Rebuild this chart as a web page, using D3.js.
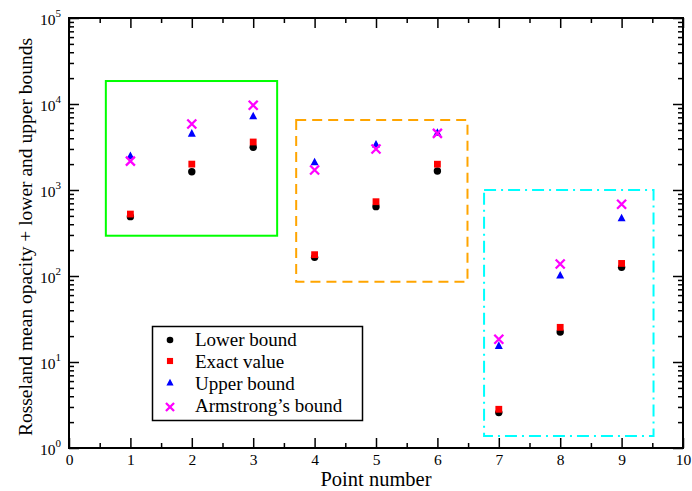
<!DOCTYPE html>
<html>
<head>
<meta charset="utf-8">
<script src="https://cdn.jsdelivr.net/npm/d3@7/dist/d3.min.js"></script>
<style>
  html, body { margin: 0; padding: 0; background: #fff; }
  svg { display: block; }
  text { font-family: "Liberation Serif", "Times New Roman", serif; fill: #000; }
</style>
</head>
<body>
<svg id="chart" width="692" height="491"></svg>
<script>
// Point numbers
const points = [1, 2, 3, 4, 5, 6, 7, 8, 9];

// Opacity values per point
const lowerBound = [490, 1630, 3140, 165, 640, 1660, 2.58, 22.3, 126];
const exactValue = [525, 2000, 3615, 177, 731, 1995, 2.82, 25.3, 140];
const upperBound = [2500, 4560, 7250, 2118, 3400, 4660, 15.5, 102, 472];
const armstrongBound = [2170, 5850, 9660, 1710, 3000, 4560, 18.4, 138, 682];

// Group boxes: [x0, x1, y0, y1] in data units
const groupBoxes = [
  { x0: 0.60, x1: 3.39, y0: 294, y1: 18500, color: "#00ff00", dash: null },
  { x0: 3.70, x1: 6.49, y0: 85.9, y1: 6510, color: "#ffa500", dash: "10,6" },
  { x0: 6.76, x1: 9.52, y0: 1.38, y1: 1000, color: "#00ffff", dash: "12,5,2,5" }
];

const xTicks = [0, 1, 2, 3, 4, 5, 6, 7, 8, 9, 10];
const yExponents = [0, 1, 2, 3, 4, 5];

const legendLabels = ["Lower bound", "Exact value", "Upper bound", "Armstrong\u2019s bound"];

const svg = d3.select("#chart");
const margin = { left: 69, right: 9, top: 18, bottom: 43 };
const W = 692, H = 491;
const x = d3.scaleLinear().domain([0, 10]).range([margin.left, W - margin.right]);
const y = d3.scaleLog().domain([1, 1e5]).range([H - margin.bottom, margin.top]);

const plot = svg.append("g");

// Group boxes
groupBoxes.forEach(b => {
  plot.append("rect")
    .attr("x", x(b.x0)).attr("y", y(b.y1))
    .attr("width", x(b.x1) - x(b.x0)).attr("height", y(b.y0) - y(b.y1))
    .attr("fill", "none").attr("stroke", b.color).attr("stroke-width", 2)
    .attr("stroke-dasharray", b.dash);
});

// Axes with inward ticks on all four sides
const majorLen = 10, minorLen = 5;
const xMinor = d3.range(0.5, 10, 1);
const yMinor = [];
for (let e = 0; e < 5; e++) for (let m = 2; m <= 9; m++) yMinor.push(m * Math.pow(10, e));

function drawAxis(axisGen, transform) {
  const g = svg.append("g").attr("transform", transform).call(axisGen);
  g.select(".domain").remove();
  g.selectAll("line").attr("stroke", "#000").attr("stroke-width", 1.5);
  return g;
}

const bottomY = y(1), topY = y(1e5), leftX = x(0), rightX = x(10);

drawAxis(d3.axisBottom(x).tickValues(xTicks).tickSize(-majorLen).tickFormat(d => d), `translate(0,${bottomY})`)
  .selectAll("text").attr("font-size", 15.5).attr("font-family", "Liberation Serif")
  .attr("dy", null).attr("y", 17);
drawAxis(d3.axisBottom(x).tickValues(xMinor).tickSize(-minorLen).tickFormat(""), `translate(0,${bottomY})`);
drawAxis(d3.axisTop(x).tickValues(xTicks).tickSize(-majorLen).tickFormat(""), `translate(0,${topY})`);
drawAxis(d3.axisTop(x).tickValues(xMinor).tickSize(-minorLen).tickFormat(""), `translate(0,${topY})`);

const yMajorVals = yExponents.map(e => Math.pow(10, e));
drawAxis(d3.axisLeft(y).tickValues(yMajorVals).tickSize(-majorLen).tickFormat(""), `translate(${leftX},0)`);
drawAxis(d3.axisLeft(y).tickValues(yMinor).tickSize(-minorLen).tickFormat(""), `translate(${leftX},0)`);
drawAxis(d3.axisRight(y).tickValues(yMajorVals).tickSize(-majorLen).tickFormat(""), `translate(${rightX},0)`);
drawAxis(d3.axisRight(y).tickValues(yMinor).tickSize(-minorLen).tickFormat(""), `translate(${rightX},0)`);

// Y tick labels 10^n
yExponents.forEach(e => {
  const t = svg.append("text")
    .attr("x", leftX - 8).attr("y", y(Math.pow(10, e)) + 7)
    .attr("text-anchor", "end").attr("font-size", 15.5);
  t.append("tspan").text("10");
  t.append("tspan").attr("font-size", 11).attr("dy", -8).text(e);
});

// Frame
svg.append("rect")
  .attr("x", leftX).attr("y", topY)
  .attr("width", rightX - leftX).attr("height", bottomY - topY)
  .attr("fill", "none").attr("stroke", "#000").attr("stroke-width", 2);

// Axis titles
svg.append("text").attr("x", (leftX + rightX) / 2).attr("y", 486)
  .attr("text-anchor", "middle").attr("font-size", 20.5).text("Point number");
svg.append("text")
  .attr("transform", `translate(32,${(topY + bottomY) / 2 + 4}) rotate(-90)`)
  .attr("text-anchor", "middle").attr("font-size", 19.5)
  .text("Rosseland mean opacity + lower and upper bounds");

// Marker drawers (k scales the marker)
const markers = {
  circle: (g, cx, cy, k = 1) => g.append("circle").attr("cx", cx).attr("cy", cy).attr("r", 3.7 * k).attr("fill", "#000"),
  square: (g, cx, cy, k = 1) => g.append("rect").attr("x", cx - 3.4 * k).attr("y", cy - 3.4 * k)
    .attr("width", 6.8 * k).attr("height", 6.8 * k).attr("fill", "#ff0000"),
  triangle: (g, cx, cy, k = 1) => g.append("path")
    .attr("d", `M${cx},${cy - 4.3 * k} L${cx + 4 * k},${cy + 3.3 * k} L${cx - 4 * k},${cy + 3.3 * k} Z`).attr("fill", "#0000ff"),
  cross: (g, cx, cy, k = 1) => g.append("path")
    .attr("d", `M${cx - 4.5 * k},${cy - 4.5 * k} L${cx + 4.5 * k},${cy + 4.5 * k} M${cx - 4.5 * k},${cy + 4.5 * k} L${cx + 4.5 * k},${cy - 4.5 * k}`)
    .attr("stroke", "#ff00ff").attr("stroke-width", 2.3).attr("fill", "none")
};

const series = [
  { values: lowerBound, marker: "circle" },
  { values: exactValue, marker: "square" },
  { values: upperBound, marker: "triangle" },
  { values: armstrongBound, marker: "cross" }
];

const markG = svg.append("g");
series.forEach(s => {
  points.forEach((p, i) => markers[s.marker](markG, x(p), y(s.values[i])));
});

// Legend
const lg = svg.append("g");
lg.append("rect").attr("x", 152.5).attr("y", 326.5).attr("width", 210).attr("height", 94)
  .attr("fill", "#fff").attr("stroke", "#000").attr("stroke-width", 1.5);
const markY = [340, 361, 382.5, 407];
const textY = [346, 367.5, 389.5, 411.5];
series.forEach((s, i) => {
  markers[s.marker](lg, 170, markY[i], 0.9);
  lg.append("text").attr("x", 195).attr("y", textY[i]).attr("font-size", 19).text(legendLabels[i]);
});
</script>
</body>
</html>
